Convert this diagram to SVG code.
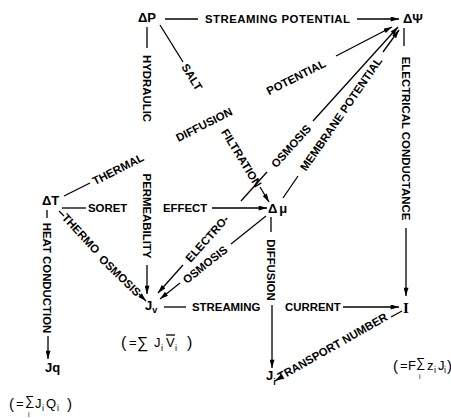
<svg xmlns="http://www.w3.org/2000/svg" width="451" height="418" viewBox="0 0 451 418">
<defs>
<marker id="ah" viewBox="0 0 10 6" refX="10" refY="3" markerWidth="9" markerHeight="5" markerUnits="userSpaceOnUse" orient="auto"><path d="M0,0 L10,3 L0,6 z" fill="#000"/></marker>
<style>
.t{font-family:"Liberation Sans","DejaVu Sans",sans-serif;font-size:11.4px;font-weight:bold;fill:#000}
.n{font-family:"Liberation Sans","DejaVu Sans",sans-serif;font-size:13px;font-weight:bold;fill:#000}
.f{font-family:"Liberation Sans","DejaVu Sans",sans-serif;font-size:13px;fill:#000}
.s{font-size:9px}
#connectors line,.ov{stroke:#000;stroke-width:1.3;fill:none}
.a{marker-end:url(#ah)}
</style>
</defs>
<rect width="451" height="418" fill="#fff"/>

<g id="connectors">
  <g id="c-streaming-potential">
    <line x1="165" y1="19" x2="198" y2="19"/>
    <text class="t" x="205" y="23.1" textLength="145" lengthAdjust="spacing">STREAMING POTENTIAL</text>
    <line class="a" x1="357" y1="19" x2="399" y2="19"/>
  </g>
  <g id="c-hydraulic-permeability">
    <line x1="147" y1="27" x2="147" y2="48"/>
    <text class="t" text-anchor="middle" transform="translate(147,88.5) rotate(90)" y="4.1">HYDRAULIC</text>
    <text class="t" text-anchor="middle" transform="translate(147.5,216) rotate(90)" y="4.1">PERMEABILITY</text>
    <line class="a" x1="147" y1="265" x2="147" y2="294"/>
  </g>
  <g id="c-salt-filtration">
    <line x1="160" y1="25" x2="183" y2="62"/>
    <text class="t" text-anchor="middle" transform="translate(192,77) rotate(58.6)" y="4.1">SALT</text>
    <text class="t" text-anchor="middle" transform="translate(241.5,158) rotate(58.6)" y="4.1">FILTRATION</text>
    <line class="a" x1="260" y1="187" x2="269" y2="202"/>
  </g>
  <g id="c-thermal-diffusion-potential">
    <line x1="64" y1="196" x2="90" y2="183"/>
    <text class="t" text-anchor="middle" transform="translate(118,169) rotate(-27)" y="4.1">THERMAL</text>
    <text class="t" text-anchor="middle" transform="translate(204,124.5) rotate(-27)" y="4.1">DIFFUSION</text>
    <text class="t" text-anchor="middle" transform="translate(296,77) rotate(-27)" y="4.1">POTENTIAL</text>
    <line class="a" x1="336" y1="56" x2="392" y2="27"/>
  </g>
  <g id="c-soret-effect">
    <line x1="62" y1="208" x2="86" y2="208"/>
    <text class="t" x="88" y="212.1">SORET</text>
    <text class="t" x="163" y="212.1">EFFECT</text>
    <line class="a" x1="212" y1="208" x2="267" y2="208"/>
  </g>
  <g id="c-thermo-osmosis">
    <line x1="59" y1="211" x2="64" y2="216"/>
    <text class="t" text-anchor="middle" transform="translate(81,233.5) rotate(47)" y="4.1">THERMO</text>
    <text class="t" text-anchor="middle" transform="translate(120,275.5) rotate(44)" y="4.1">OSMOSIS</text>
    <line class="a" x1="139" y1="294" x2="146" y2="301"/>
  </g>
  <g id="c-heat-conduction">
    <line x1="47" y1="210" x2="47" y2="218"/>
    <text class="t" text-anchor="middle" transform="translate(47.5,278) rotate(90)" y="4.1">HEAT CONDUCTION</text>
    <line class="a" x1="48" y1="336" x2="48" y2="359"/>
  </g>
  <g id="c-membrane-potential">
    <line x1="283" y1="198" x2="298" y2="176"/>
    <text class="t" text-anchor="middle" transform="translate(341,114) rotate(-55.4)" y="4.1">MEMBRANE POTENTIAL</text>
    <line class="a" x1="383" y1="52" x2="399" y2="30"/>
  </g>
  <g id="c-electro-osmosis">
    <line class="a" x1="313" y1="121" x2="398" y2="27"/>
    <text class="t" text-anchor="middle" transform="translate(291,146) rotate(-48)" y="4.1">OSMOSIS</text>
    <line x1="267" y1="172" x2="241" y2="201"/>
    <text class="t" text-anchor="middle" transform="translate(207,238.6) rotate(-48)" y="4.1">ELECTRO-</text>
    <line class="a" x1="183" y1="265" x2="158" y2="293"/>
  </g>
  <g id="c-osmosis">
    <line x1="266" y1="216" x2="231" y2="244"/>
    <text class="t" text-anchor="middle" transform="translate(205,264.5) rotate(-38.4)" y="4.1">OSMOSIS</text>
    <line class="a" x1="180" y1="283" x2="160" y2="299"/>
  </g>
  <g id="c-streaming-current">
    <line x1="164" y1="307" x2="186" y2="307"/>
    <text class="t" x="192" y="311.1">STREAMING</text>
    <text class="t" x="285" y="311.1">CURRENT</text>
    <line class="a" x1="343" y1="307" x2="399" y2="307"/>
  </g>
  <g id="c-diffusion">
    <line x1="271" y1="217" x2="271" y2="232"/>
    <text class="t" text-anchor="middle" transform="translate(271.5,270) rotate(90)" y="4.1">DIFFUSION</text>
    <line class="a" x1="272" y1="305" x2="272" y2="368"/>
  </g>
  <g id="c-electrical-conductance">
    <line x1="404" y1="28" x2="404" y2="46"/>
    <text class="t" text-anchor="middle" transform="translate(406,138.5) rotate(90)" y="4.1">ELECTRICAL CONDUCTANCE</text>
    <line class="a" x1="406" y1="228" x2="406" y2="296"/>
  </g>
  <g id="c-transport-number">
    <line x1="402" y1="311" x2="391" y2="317"/>
    <text class="t" text-anchor="middle" transform="translate(332.5,346.5) rotate(-29.6)" y="4.1">TRANSPORT NUMBER</text>
    <line class="a" x1="283" y1="376" x2="275" y2="381"/>
  </g>
</g>

<g id="node-dP"><text class="n" x="138" y="22">ΔP</text></g>
<g id="node-dPsi"><text class="n" x="403" y="23">ΔΨ</text></g>
<g id="node-dT"><text class="n" x="42" y="205">ΔT</text></g>
<g id="node-dmu"><text class="n" x="268" y="213">Δ<tspan dx="2">μ</tspan></text></g>
<g id="node-Jv">
  <text class="n" x="145" y="310">J<tspan class="s" dy="3">v</tspan></text>
  <text class="f"><tspan x="121" y="348" font-size="16">(</tspan><tspan x="129" y="347">=</tspan><tspan x="137" y="348" font-size="16">∑</tspan><tspan x="154" y="347">J</tspan><tspan class="s" x="161" y="351">i</tspan><tspan x="166" y="347">V</tspan><tspan class="s" x="175" y="351">i</tspan><tspan x="187" y="348" font-size="16">)</tspan></text>
  <line class="ov" x1="166" y1="335" x2="175" y2="335"/>
</g>
<g id="node-Jq">
  <text class="n" x="45" y="372">Jq</text>
  <text class="f"><tspan x="9" y="409" font-size="15">(</tspan><tspan x="16" y="408">=</tspan><tspan x="25" y="405">∑</tspan><tspan x="28" y="416.5" font-size="7">i</tspan><tspan x="35" y="408">J</tspan><tspan class="s" x="42" y="411">i</tspan><tspan x="46" y="408">Q</tspan><tspan class="s" x="57" y="411">i</tspan><tspan x="67" y="409" font-size="15">)</tspan></text>
</g>
<g id="node-Ji">
  <text class="n" x="266" y="380">J<tspan class="s" dy="5">i</tspan></text>
</g>
<g id="node-I">
  <text x="406" y="313" text-anchor="middle" font-family="'Liberation Serif',serif" font-size="15" font-weight="bold">I</text>
  <text class="f"><tspan x="393" y="371" font-size="15">(</tspan><tspan x="400" y="370">=</tspan><tspan x="408" y="370">F</tspan><tspan x="416" y="367">∑</tspan><tspan x="419" y="379" font-size="7">i</tspan><tspan x="427" y="370">z</tspan><tspan class="s" x="434" y="373">i</tspan><tspan x="438" y="370">J</tspan><tspan class="s" x="444" y="373">i</tspan><tspan x="447" y="371" font-size="15">)</tspan></text>
</g>
</svg>
